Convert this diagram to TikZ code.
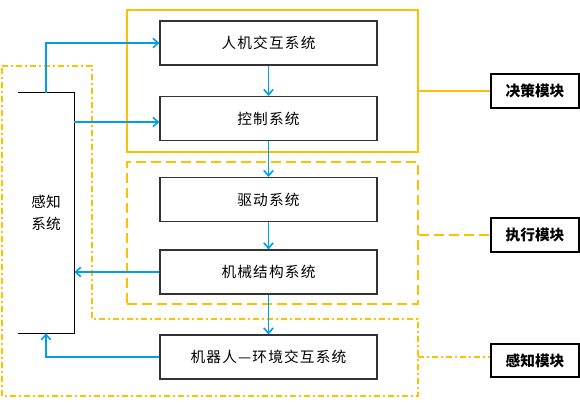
\documentclass[tikz,border=0pt]{standalone}
\usepackage{fontspec}
\setmainfont{Noto Sans CJK SC}
\usetikzlibrary{arrows.meta}
\definecolor{flowblue}{RGB}{0,160,233}
\definecolor{modyellow}{RGB}{255,192,0}
\begin{document}
\begin{tikzpicture}[x=0.75pt,y=-0.75pt,
  sysbox/.style={draw=black!80,line width=0.8pt,minimum width=162.75pt,minimum height=33pt,inner sep=0pt,font=\fontsize{11}{12}\selectfont\addfontfeatures{LetterSpace=8}},
  labbox/.style={draw=black,line width=1.3pt,minimum width=66pt,minimum height=25pt,inner sep=0pt,font=\fontsize{11}{12}\selectfont\bfseries},
  flow/.style={draw=flowblue,line width=1.2pt,-{Straight Barb[length=4pt,width=7pt]}},
  modline/.style={draw=modyellow,line width=1.3pt},
  dashmod/.style={modline,dash pattern=on 7.5pt off 3.75pt},
  dotmod/.style={modline,dash pattern=on 4.5pt off 2.25pt on 1.5pt off 2.25pt}]
\useasboundingbox (0,0) rectangle (580,404);
% module frames
\node[modline,minimum width=218.25pt,minimum height=106.5pt,inner sep=0pt] (decm) at (272.5,81) {};
\node[dashmod,minimum width=218.25pt,minimum height=106.5pt,inner sep=0pt] (exem) at (272.5,233) {};
\draw[dotmod] (2,66) -- (92,66) -- (92,319) -- (418,319) -- (418,396) -- (2,396) -- cycle;
% systems
\node[sysbox] (hmi) at (268.5,43) {人机交互系统};
\node[sysbox] (ctrl) at (268.5,118.5) {控制系统};
\node[sysbox] (drv) at (268.5,199.5) {驱动系统};
\node[sysbox] (mech) at (268.5,272) {机械结构系统};
\node[sysbox] (env) at (268.5,357) {机器人—环境交互系统};
\node[minimum width=42pt,minimum height=180pt,inner sep=0pt,align=center,font=\fontsize{11}{17}\selectfont] (sense) at (46,213) {感知\\系统};
\draw[line width=0.8pt] (sense.north west) -- (sense.north east) -- (sense.south east) -- (sense.south west);
% module labels
\node[labbox] (dec) at (535,91) {决策模块};
\node[labbox] (exe) at (535,235) {执行模块};
\node[labbox] (pcp) at (535,360.5) {感知模块};
\draw[modline] (decm.east |- dec.west) -- (dec.west);
\draw[dashmod] (exem.east |- exe.west) -- (exe.west);
\coordinate (pcpend) at (418,357);
\draw[dotmod] (pcpend) -- (pcp.west |- pcpend);
% flows
\draw[flow] (sense.north) |- (hmi.west);
\draw[flow] (sense.east |- 0,122) -- (ctrl.west |- 0,122);
\draw[flow] (hmi.south) -- (ctrl.north);
\draw[flow] (ctrl.south) -- (drv.north);
\draw[flow] (drv.south) -- (mech.north);
\draw[flow] (mech.south) -- (env.north);
\draw[flow] (mech.west) -- (sense.east |- mech.west);
\draw[flow] (env.west) -| (sense.south);
\end{tikzpicture}
\end{document}
